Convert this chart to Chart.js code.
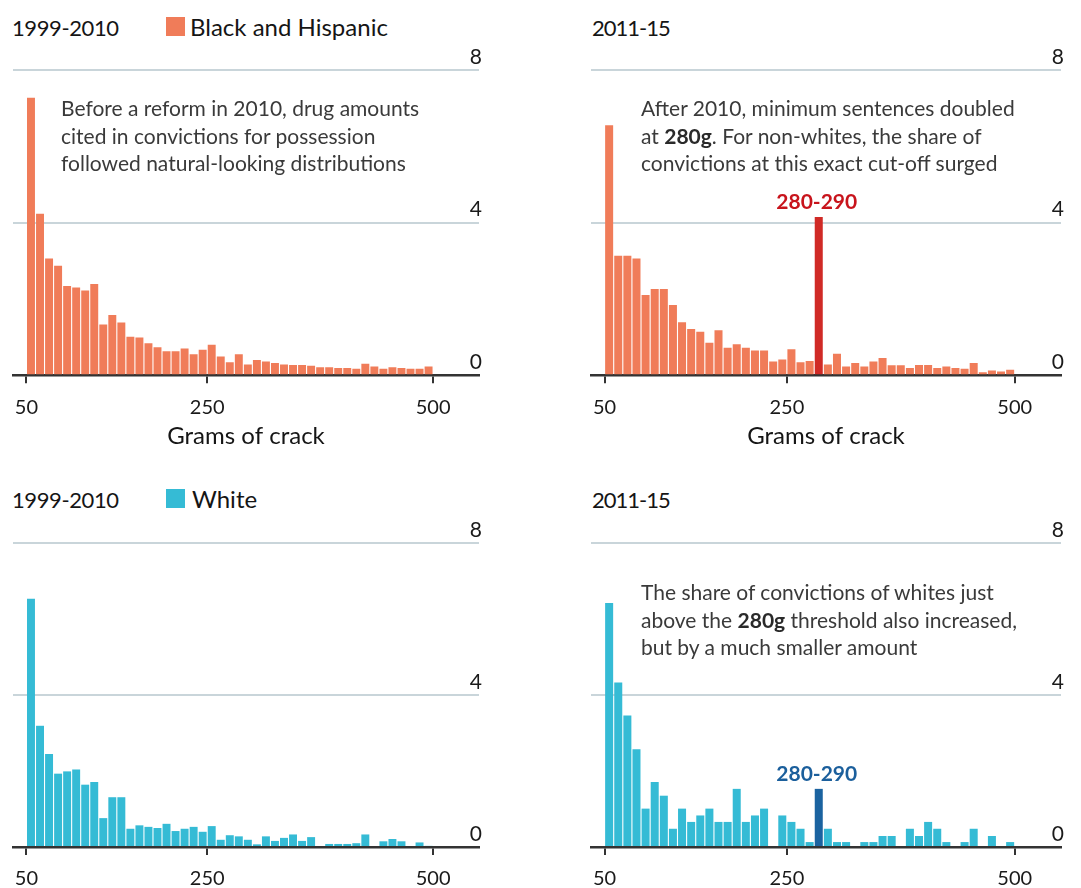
<!DOCTYPE html>
<html>
<head>
<meta charset="utf-8">
<script src="https://cdn.jsdelivr.net/npm/chart.js@4.4.1/dist/chart.umd.min.js"></script>
<style>
  html, body { margin: 0; padding: 0; background: #ffffff; overflow: hidden; }
  body { width: 1081px; height: 888px; position: relative; font-family: Lato, "Open Sans", sans-serif; }
  canvas.panel { position: absolute; }
  .hdr { position: absolute; font-size: 22px; line-height: 28px; color: #151515; white-space: nowrap; letter-spacing: -0.4px; }
  .hdr.n { letter-spacing: -1px; }
  .leg { position: absolute; font-size: 24px; line-height: 28px; color: #151515; white-space: nowrap; }
  .sw { position: absolute; width: 19px; height: 19px; }
  .note { position: absolute; font-size: 21px; line-height: 27.5px; color: #3a3a3a; white-space: nowrap; }
  .note b { color: #2a2a2a; }
</style>
</head>
<body>

<div class="hdr" style="left:12px; top:14px;">1999-2010</div>
<div class="sw" style="left:166px; top:17px; background:#f07c59;"></div>
<div class="leg" style="left:190px; top:13px;">Black and Hispanic</div>
<div class="hdr n" style="left:592px; top:14px;">2011-15</div>

<div class="hdr" style="left:12px; top:486px;">1999-2010</div>
<div class="sw" style="left:166px; top:489px; background:#35bbd5;"></div>
<div class="leg" style="left:192px; top:485px;">White</div>
<div class="hdr n" style="left:592px; top:486px;">2011-15</div>

<canvas id="c1" class="panel" width="540" height="451" style="left:0px; top:0px;"></canvas>
<canvas id="c2" class="panel" width="503" height="451" style="left:578px; top:0px;"></canvas>
<canvas id="c3" class="panel" width="540" height="431" style="left:0px; top:472px;"></canvas>
<canvas id="c4" class="panel" width="503" height="431" style="left:578px; top:472px;"></canvas>

<div class="note" style="left:61px; top:94px;">Before a reform in 2010, drug amounts<br>cited in convictions for possession<br>followed natural-looking distributions</div>
<div class="note" style="left:641px; top:94px;">After 2010, minimum sentences doubled<br>at <b>280g</b>. For non-whites, the share of<br>convictions at this exact cut-off surged</div>
<div class="note" style="left:641px; top:578px;">The share of convictions of whites just<br>above the <b>280g</b> threshold also increased,<br>but by a much smaller amount</div>

<script>
// ---- Data (share of convictions, %, per 10g bin) ----
const binStarts = [50,60,70,80,90,100,110,120,130,140,150,160,170,180,190,200,210,220,230,240,
                   250,260,270,280,290,300,310,320,330,340,350,360,370,380,390,400,410,420,430,440,
                   450,460,470,480,490];
const binWidth = 10;
const xTickValues = [50, 250, 500];
const yTickValues = [0, 4, 8];
const highlightBin = 280;
const highlightLabel = "280-290";

const blackBefore = [7.27,4.23,3.06,2.87,2.34,2.30,2.22,2.39,1.33,1.58,
                     1.38,1.01,0.99,0.84,0.73,0.63,0.63,0.70,0.55,0.67,
                     0.80,0.49,0.34,0.55,0.28,0.40,0.36,0.32,0.28,0.27,
                     0.27,0.25,0.21,0.21,0.19,0.19,0.17,0.30,0.23,0.17,
                     0.21,0.19,0.17,0.17,0.23];
const blackAfter  = [6.55,3.13,3.13,3.06,2.10,2.26,2.26,1.84,1.39,1.21,
                     1.14,0.85,1.18,0.72,0.81,0.72,0.65,0.65,0.36,0.41,
                     0.68,0.34,0.37,4.15,0.28,0.56,0.23,0.32,0.23,0.36,
                     0.45,0.26,0.26,0.19,0.27,0.27,0.19,0.23,0.19,0.17,
                     0.32,0.08,0.12,0.10,0.14];
const whiteBefore = [6.53,3.19,2.45,1.93,1.99,2.04,1.64,1.71,0.76,1.31,
                     1.31,0.48,0.57,0.53,0.50,0.61,0.42,0.48,0.53,0.40,
                     0.55,0.19,0.31,0.28,0.19,0.07,0.28,0.16,0.24,0.33,
                     0.16,0.26,0.00,0.08,0.08,0.08,0.10,0.33,0.00,0.15,
                     0.21,0.15,0.00,0.12,0.03];
const whiteAfter  = [6.42,4.33,3.46,2.57,1.01,1.71,1.35,0.48,1.01,0.66,
                     0.83,1.01,0.66,0.66,1.53,0.66,0.83,1.01,0.00,0.83,
                     0.66,0.48,0.13,1.53,0.48,0.13,0.13,0.00,0.13,0.13,
                     0.29,0.29,0.00,0.48,0.29,0.66,0.48,0.13,0.00,0.13,
                     0.48,0.00,0.29,0.00,0.13];

// ---- Styles ----
const FONT = "Lato, 'Open Sans', sans-serif";
const ORANGE = "#f07c59", RED_BAR = "#d02a26", RED_TXT = "#c8141c";
const CYAN = "#35bbd5", BLUE_BAR = "#1b63a0", BLUE_TXT = "#1b5f9c";
const GRID = "#c9d5da", AXIS = "#333333";

const highlightPlugin = {
  id: 'hlLabel',
  afterDatasetsDraw(chart, args, opts) {
    if (!opts.show) return;
    const meta = chart.getDatasetMeta(0);
    const idx = binStarts.indexOf(highlightBin);
    const el = meta.data[idx];
    if (!el) return;
    const ctx = chart.ctx;
    ctx.save();
    ctx.font = "bold 21px " + FONT;
    ctx.fillStyle = opts.color;
    ctx.textAlign = 'center';
    ctx.textBaseline = 'bottom';
    ctx.fillText(highlightLabel, el.x - 2, el.y - 4);
    ctx.restore();
  }
};

function makeChart(id, values, color, hiColor, hiTextColor, showTitle, padRight) {
  const data = binStarts.map((b, i) => ({ x: b + binWidth / 2, y: values[i] }));
  const colors = binStarts.map(b => (hiColor && b === highlightBin) ? hiColor : color);
  return new Chart(document.getElementById(id), {
    type: 'bar',
    data: { datasets: [{ data, backgroundColor: colors, borderWidth: 0,
                         categoryPercentage: 1.0, barPercentage: 0.88 }] },
    plugins: [highlightPlugin],
    options: {
      responsive: false,
      animation: false,
      layout: { padding: { left: 13, right: padRight, top: showTitle ? 70 : 71, bottom: 0 } },
      plugins: {
        legend: { display: false },
        tooltip: { enabled: false },
        hlLabel: { show: !!hiColor, color: hiTextColor }
      },
      scales: {
        x: {
          type: 'linear',
          min: 35.1, max: 550.8,
          offset: false,
          bounds: 'ticks',
          z: 1,
          afterBuildTicks: s => { s.ticks = xTickValues.map(v => ({ value: v })); },
          grid: { display: true, offset: false, drawOnChartArea: false, drawTicks: true, tickLength: 8,
                  color: AXIS, lineWidth: 2 },
          border: { display: true, color: AXIS, width: 2.5 },
          ticks: { font: { family: FONT, size: 20 }, color: '#1a1a1a', padding: 12,
                   maxRotation: 0, autoSkip: false },
          title: { display: showTitle, text: 'Grams of crack', color: '#151515',
                   font: { family: FONT, size: 24 }, padding: { top: -9, bottom: 0 } }
        },
        y: {
          position: 'right',
          min: 0, max: 8,
          afterBuildTicks: s => { s.ticks = yTickValues.map(v => ({ value: v })); },
          grid: { color: GRID, lineWidth: 2, drawTicks: false },
          border: { display: false },
          ticks: { mirror: true, padding: 3, labelOffset: -13,
                   font: { family: FONT, size: 21 }, color: '#1a1a1a' }
        }
      }
    }
  });
}

makeChart('c1', blackBefore, ORANGE, null, null, true, 55);
makeChart('c2', blackAfter, ORANGE, RED_BAR, RED_TXT, true, 14);
makeChart('c3', whiteBefore, CYAN, null, null, false, 55);
makeChart('c4', whiteAfter, CYAN, BLUE_BAR, BLUE_TXT, false, 14);
</script>
</body>
</html>
